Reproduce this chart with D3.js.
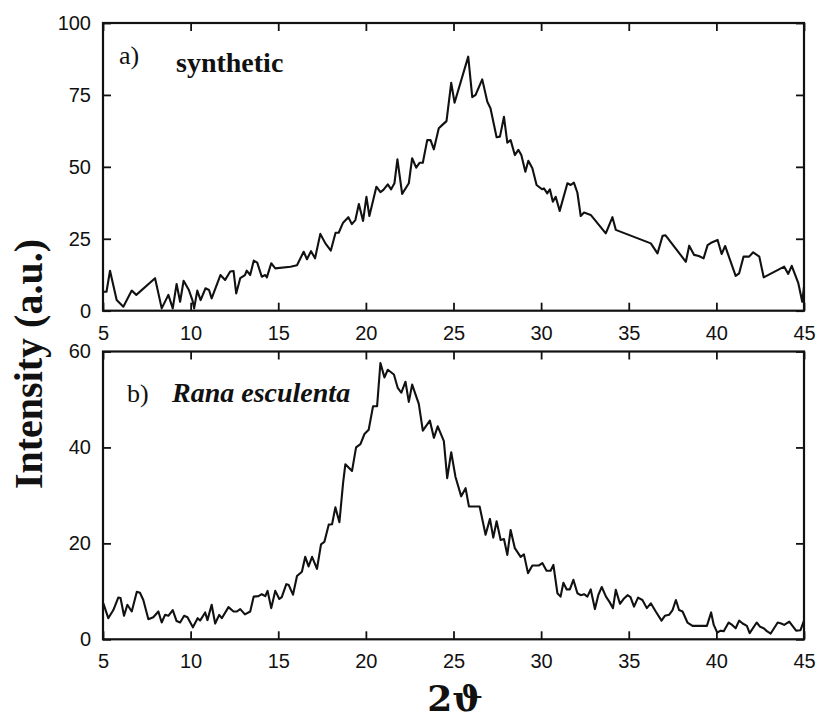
<!DOCTYPE html>
<html>
<head>
<meta charset="utf-8">
<script src="https://cdn.jsdelivr.net/npm/d3@7"></script>
<style>
  html, body { margin: 0; padding: 0; background: #ffffff; }
  svg { display: block; }
  .tick text { font-family: "Liberation Sans", Arial, sans-serif; font-size: 20px; fill: #111; }
</style>
</head>
<body>
<script>
// ---------- data ----------
const xTicks = [5, 10, 15, 20, 25, 30, 35, 40, 45];
const yTicksA = [0, 25, 50, 75, 100];
const yTicksB = [0, 20, 40, 60];
const labelA = "a)";
const nameA = "synthetic";
const labelB = "b)";
const nameB = "Rana esculenta";
const yTitle = "Intensity (a.u.)";
const xTitle = "2\u03D1";

const thetaA = [5.0,5.2,5.4,5.78,6.16,6.64,6.9,7.97,8.35,8.73,8.98,9.2,9.4,9.6,9.9,10.1,10.2,10.38,10.57,10.85,11.05,11.2,11.7,11.97,12.26,12.45,12.6,12.83,13.1,13.2,13.4,13.6,13.8,14.06,14.26,14.35,14.6,14.83,15.7,16.07,16.45,16.64,16.87,17.1,17.4,17.69,18.0,18.27,18.45,18.7,19.0,19.2,19.4,19.6,19.84,20.03,20.2,20.6,20.83,21.0,21.25,21.44,21.63,21.8,22.07,22.45,22.64,22.87,23.06,23.25,23.5,23.69,23.88,24.16,24.35,24.6,24.87,25.06,25.84,26.07,26.26,26.64,26.93,27.11,27.46,27.65,27.88,28.07,28.26,28.5,28.7,28.87,29.1,29.27,29.5,29.74,30.05,30.16,30.35,30.5,30.67,30.83,31.06,31.5,31.69,31.87,32.07,32.26,32.45,32.83,33.69,34.07,34.26,36.26,36.64,36.93,37.1,38.26,38.45,38.73,39.0,39.27,39.5,39.7,40.07,40.3,40.5,41.1,41.3,41.55,41.87,42.1,42.45,42.7,43.87,44.1,44.3,44.67,44.9,45.0];
const intensityA = [6.6,6.6,13.9,3.7,1.4,7.0,5.5,11.3,0.8,5.5,0.8,9.3,3.1,10.4,7.2,3.7,0.8,7.0,3.7,7.8,7.2,4.3,12.4,10.7,13.6,13.8,6.0,11.3,12.4,13.9,12.4,17.4,16.7,11.8,12.4,11.6,16.5,14.7,15.3,15.8,20.5,17.9,20.7,18.2,26.7,23.4,20.9,27.1,27.1,30.6,32.5,30.1,31.5,37.1,31.2,39.6,32.9,43.1,41.2,42.0,43.9,42.2,44.3,52.6,40.6,44.3,53.0,49.7,51.4,51.4,59.3,59.3,56.1,63.4,64.5,65.9,79.2,72.3,88.3,74.2,75.0,80.4,72.6,70.4,60.3,60.5,67.4,58.4,59.3,54.1,55.9,54.1,48.3,52.1,49.5,43.7,42.2,42.5,40.8,42.2,37.9,39.6,34.7,44.3,43.7,44.5,41.0,32.9,34.1,33.3,26.9,32.5,28.1,23.4,19.9,26.0,26.2,17.0,22.6,19.4,19.0,18.2,22.8,23.6,24.6,19.7,22.5,12.1,13.0,18.8,18.8,20.3,18.8,11.6,15.3,12.8,15.6,9.7,3.1,8.3];

const thetaB = [5.02,5.3,5.59,5.87,6.0,6.2,6.39,6.64,6.93,7.11,7.3,7.59,7.87,8.16,8.35,8.54,8.73,8.98,9.2,9.4,9.63,9.82,10.13,10.4,10.54,10.83,10.96,11.2,11.4,11.63,11.78,12.16,12.45,12.64,12.83,13.1,13.4,13.6,13.87,14.06,14.26,14.39,14.6,14.83,15.06,15.2,15.46,15.6,15.84,16.07,16.35,16.54,16.73,16.93,17.21,17.44,17.63,17.88,18.07,18.26,18.49,18.7,18.83,19.21,19.44,19.69,19.92,20.16,20.41,20.64,20.83,21.06,21.25,21.6,21.82,22.02,22.26,22.45,22.64,23.02,23.25,23.65,23.88,24.1,24.45,24.64,24.87,25.11,25.44,25.69,25.88,26.16,26.49,26.83,27.08,27.27,27.46,27.69,27.88,28.07,28.26,28.5,28.83,29.02,29.25,29.5,29.88,30.07,30.31,30.54,30.7,30.93,31.11,31.27,31.46,31.64,31.84,32.07,32.26,32.45,32.64,32.83,33.07,33.26,33.46,33.7,33.9,34.1,34.26,34.5,34.7,34.93,35.1,35.3,35.53,35.78,36.03,36.26,36.54,36.87,37.06,37.3,37.5,37.69,37.87,38.07,38.35,38.64,39.02,39.46,39.7,39.85,40.05,40.24,40.42,40.7,40.9,41.1,41.3,41.5,41.74,41.9,42.3,42.5,42.7,42.88,43.1,43.5,43.7,43.87,44.16,44.3,44.55,44.8,45.0];
const intensityB = [7.5,4.4,6.1,8.7,8.6,4.9,7.2,5.8,9.9,9.7,8.2,4.2,4.6,5.8,3.5,5.1,4.9,6.1,3.8,3.5,4.9,4.6,2.5,4.4,3.9,5.6,4.0,7.2,3.3,5.1,4.4,6.7,5.8,5.8,6.3,5.2,5.8,8.9,9.0,9.4,9.0,10.1,6.5,10.1,8.4,8.8,11.5,11.3,9.3,13.2,14.1,17.2,15.2,17.2,14.7,19.8,20.3,23.9,24.0,27.5,24.4,32.6,36.5,35.1,40.0,40.7,42.8,43.7,48.6,48.6,57.6,54.6,56.2,55.2,52.4,51.4,53.7,49.5,53.1,49.1,43.5,45.6,42.0,44.4,41.3,33.6,39.0,33.9,29.8,31.5,27.7,27.7,27.7,21.8,25.1,21.2,24.6,20.7,20.9,17.6,22.8,19.0,17.2,17.7,13.8,15.4,15.4,15.9,14.3,14.3,15.5,9.6,8.9,11.8,10.4,10.4,12.4,9.6,9.2,9.4,8.9,10.4,6.3,9.2,10.9,8.9,7.8,6.5,10.3,7.4,8.4,9.2,8.8,6.8,8.7,8.2,6.5,7.5,5.8,3.9,4.9,5.1,6.1,8.2,6.1,5.8,3.5,2.8,2.8,2.8,5.6,3.0,1.4,1.8,1.7,3.5,3.0,2.3,3.9,3.3,2.8,1.3,3.5,2.6,2.3,1.7,1.2,3.5,3.3,3.0,3.7,3.0,1.8,1.9,3.9];

// ---------- layout ----------
const W = 817, H = 722;
const left = 103, right = 804;
const svg = d3.select("body").append("svg").attr("width", W).attr("height", H);
svg.append("rect").attr("width", W).attr("height", H).attr("fill", "#fff");

const x = d3.scaleLinear().domain([5, 45]).range([left, right]);

function panel(top, bottom, yMax, yTicks, xs, ys, lab, name, nameItalic, labY) {
  const y = d3.scaleLinear().domain([0, yMax]).range([bottom, top]);
  const g = svg.append("g");
  const tk = 8;
  g.append("g").attr("transform", `translate(0,${bottom})`)
    .call(d3.axisBottom(x).tickValues(xTicks).tickSizeInner(-tk).tickSizeOuter(0).tickPadding(15).tickFormat(d3.format("d")));
  g.append("g").attr("transform", `translate(0,${top})`)
    .call(d3.axisTop(x).tickValues(xTicks).tickSizeInner(-tk).tickSizeOuter(0).tickFormat(""));
  g.append("g").attr("transform", `translate(${left},0)`)
    .call(d3.axisLeft(y).tickValues(yTicks).tickSizeInner(-tk).tickSizeOuter(0).tickPadding(12).tickFormat(d3.format("d")));
  g.append("g").attr("transform", `translate(${right},0)`)
    .call(d3.axisRight(y).tickValues(yTicks).tickSizeInner(-tk).tickSizeOuter(0).tickFormat(""));
  g.selectAll(".domain").remove();
  g.selectAll(".tick line").attr("stroke", "#111").attr("stroke-width", 1.8);
  g.append("rect").attr("x", left).attr("y", top).attr("width", right - left).attr("height", bottom - top)
    .attr("fill", "none").attr("stroke", "#111").attr("stroke-width", 2.2);
  const pts = xs.map((d, i) => [d, ys[i]]);
  g.append("path").datum(pts)
    .attr("fill", "none").attr("stroke", "#111").attr("stroke-width", 2.1).attr("stroke-linejoin", "round")
    .attr("d", d3.line().x(d => x(d[0])).y(d => y(d[1])));
  g.append("text").attr("x", lab.x).attr("y", labY).text(lab.t)
    .attr("font-family", "'Liberation Serif', 'Times New Roman', serif").attr("font-size", 26).attr("fill", "#111");
  g.append("text").attr("x", name.x).attr("y", name.y).text(name.t)
    .attr("font-family", "'Liberation Serif', 'Times New Roman', serif").attr("font-size", 28)
    .attr("font-weight", "bold").attr("font-style", nameItalic ? "italic" : "normal").attr("fill", "#111");
}

panel(23, 310.7, 100, yTicksA, thetaA, intensityA, {x: 119, t: labelA}, {x: 176, y: 72, t: nameA}, false, 64);
panel(351.5, 639.3, 60, yTicksB, thetaB, intensityB, {x: 127, t: labelB}, {x: 172, y: 402, t: nameB}, true, 402);

// axis titles
svg.append("text").attr("transform", "translate(42,364) rotate(-90)")
  .attr("text-anchor", "middle").text(yTitle)
  .attr("font-family", "'Liberation Serif', 'Times New Roman', serif").attr("font-size", 40)
  .attr("font-weight", "bold").attr("fill", "#111");
svg.append("text").attr("x", 455).attr("y", 711).attr("text-anchor", "middle").text(xTitle)
  .attr("font-family", "'DejaVu Serif', serif").attr("font-size", 36)
  .attr("font-weight", "bold").attr("fill", "#111");
</script>
</body>
</html>
